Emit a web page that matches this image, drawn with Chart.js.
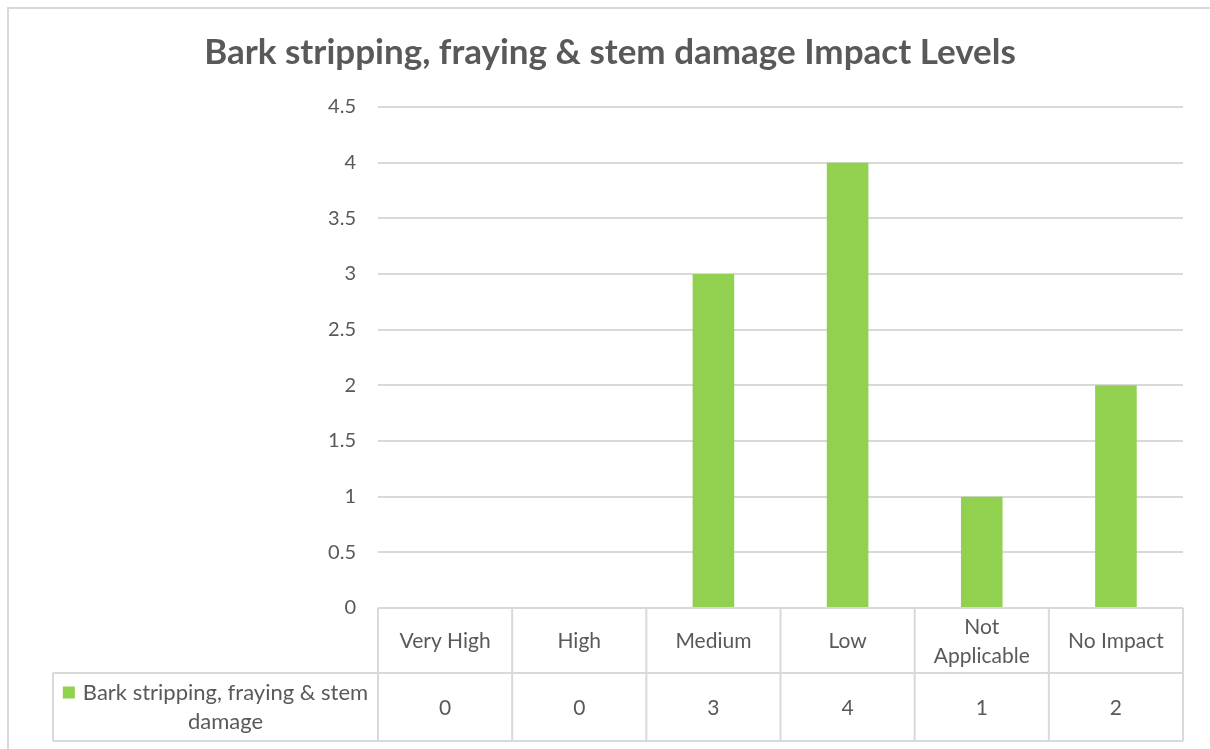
<!DOCTYPE html>
<html>
<head>
<meta charset="utf-8">
<script src="https://cdn.jsdelivr.net/npm/chart.js@4.4.1/dist/chart.umd.min.js"></script>
<style>
  body { margin: 0; background: #fff; }
  #wrap { position: relative; width: 1210px; height: 749px; }
</style>
</head>
<body>
<div id="wrap"><canvas id="impactChart" width="1210" height="749"></canvas></div>
<script>
const chartTitle = "Bark stripping, fraying & stem damage Impact Levels";
const seriesName = "Bark stripping, fraying & stem damage";
const categories = ["Very High", "High", "Medium", "Low", "Not Applicable", "No Impact"];
const impactCounts = [0, 0, 3, 4, 1, 2];
const yTicks = [0, 0.5, 1, 1.5, 2, 2.5, 3, 3.5, 4, 4.5];

const textColor = "#595959";
const lineColor = "#d9d9d9";
const barColor = "#92d050";
const fontFamily = "Lato, Calibri, 'Open Sans', sans-serif";

// split text into lines that fit maxW
function wrapText(ctx, text, maxW) {
  const words = text.split(" ");
  const lines = [];
  let cur = "";
  words.forEach(w => {
    const test = cur ? cur + " " + w : w;
    if (ctx.measureText(test).width > maxW && cur) {
      lines.push(cur);
      cur = w;
    } else {
      cur = test;
    }
  });
  if (cur) lines.push(cur);
  return lines;
}

// title, outer frame and the data table under the plot
const tablePlugin = {
  id: "dataTable",
  afterDraw(chart) {
    const ctx = chart.ctx;
    const area = chart.chartArea;
    const xs = chart.scales.x;
    const n = categories.length;
    const colW = (area.right - area.left) / n;
    const headTop = area.bottom;
    const rowTop = 673;
    const rowBottom = 741;
    const legendLeft = 53;

    ctx.save();

    // outer frame
    ctx.strokeStyle = lineColor;
    ctx.lineWidth = 2;
    ctx.strokeRect(8, 8, 1260, 800);

    // title
    ctx.fillStyle = textColor;
    ctx.font = "bold 35px " + fontFamily;
    ctx.textAlign = "center";
    ctx.textBaseline = "middle";
    ctx.fillText(chartTitle, 610, 53);

    // table grid
    ctx.strokeStyle = lineColor;
    ctx.lineWidth = 2;
    ctx.beginPath();
    ctx.moveTo(area.left, headTop);
    ctx.lineTo(area.right, headTop);
    ctx.moveTo(legendLeft, rowTop);
    ctx.lineTo(area.right, rowTop);
    ctx.moveTo(legendLeft, rowBottom);
    ctx.lineTo(area.right, rowBottom);
    ctx.moveTo(legendLeft, rowTop);
    ctx.lineTo(legendLeft, rowBottom);
    for (let i = 0; i <= n; i++) {
      const x = area.left + i * colW;
      ctx.moveTo(x, headTop);
      ctx.lineTo(x, rowBottom);
    }
    ctx.stroke();

    // category headers and values
    ctx.fillStyle = textColor;
    ctx.font = "21px " + fontFamily;
    ctx.textAlign = "center";
    ctx.textBaseline = "middle";
    const lineH = 29;
    categories.forEach((cat, i) => {
      const cx = xs.getPixelForValue(i);
      const lines = wrapText(ctx, cat, colW - 16);
      const midY = (headTop + rowTop) / 2 + 1;
      lines.forEach((ln, k) => {
        ctx.fillText(ln, cx, midY + (k - (lines.length - 1) / 2) * lineH);
      });
      ctx.fillText(String(impactCounts[i]), cx, (rowTop + rowBottom) / 2 + 1);
    });

    // legend key cell
    ctx.font = "22px " + fontFamily;
    const legLines = wrapText(ctx, seriesName, 300);
    const keyW = 12;
    const rowMid = (rowTop + rowBottom) / 2;
    const firstW = ctx.measureText(legLines[0]).width;
    const startX = (legendLeft + area.left) / 2 - (firstW + keyW + 8) / 2;
    const textX = startX + keyW + 8;
    legLines.forEach((ln, k) => {
      const y = rowMid + (k - (legLines.length - 1) / 2) * lineH;
      if (k === 0) {
        ctx.fillStyle = barColor;
        ctx.fillRect(startX, y - 6, keyW, keyW);
        ctx.fillStyle = textColor;
        ctx.textAlign = "left";
        ctx.fillText(ln, textX, y);
      } else {
        ctx.textAlign = "center";
        ctx.fillText(ln, textX + firstW / 2, y);
      }
    });

    ctx.restore();
  }
};

new Chart(document.getElementById("impactChart"), {
  type: "bar",
  data: {
    labels: categories,
    datasets: [{
      label: seriesName,
      data: impactCounts,
      backgroundColor: barColor,
      borderWidth: 0,
      categoryPercentage: 1,
      barPercentage: 0.31
    }]
  },
  options: {
    responsive: false,
    animation: false,
    events: [],
    layout: { padding: { left: 0, right: 27, top: 107, bottom: 141 } },
    plugins: {
      legend: { display: false },
      title: { display: false },
      tooltip: { enabled: false }
    },
    scales: {
      x: { display: false },
      y: {
        min: 0,
        max: 4.5,
        afterFit(scale) { scale.width = 378; },
        afterBuildTicks(scale) { scale.ticks = yTicks.map(v => ({ value: v })); },
        border: { display: false },
        grid: { color: lineColor, lineWidth: 2, drawTicks: false },
        ticks: {
          color: textColor,
          padding: 22,
          font: { family: fontFamily, size: 20 },
          callback: v => String(v)
        }
      }
    }
  },
  plugins: [tablePlugin]
});
</script>
</body>
</html>
